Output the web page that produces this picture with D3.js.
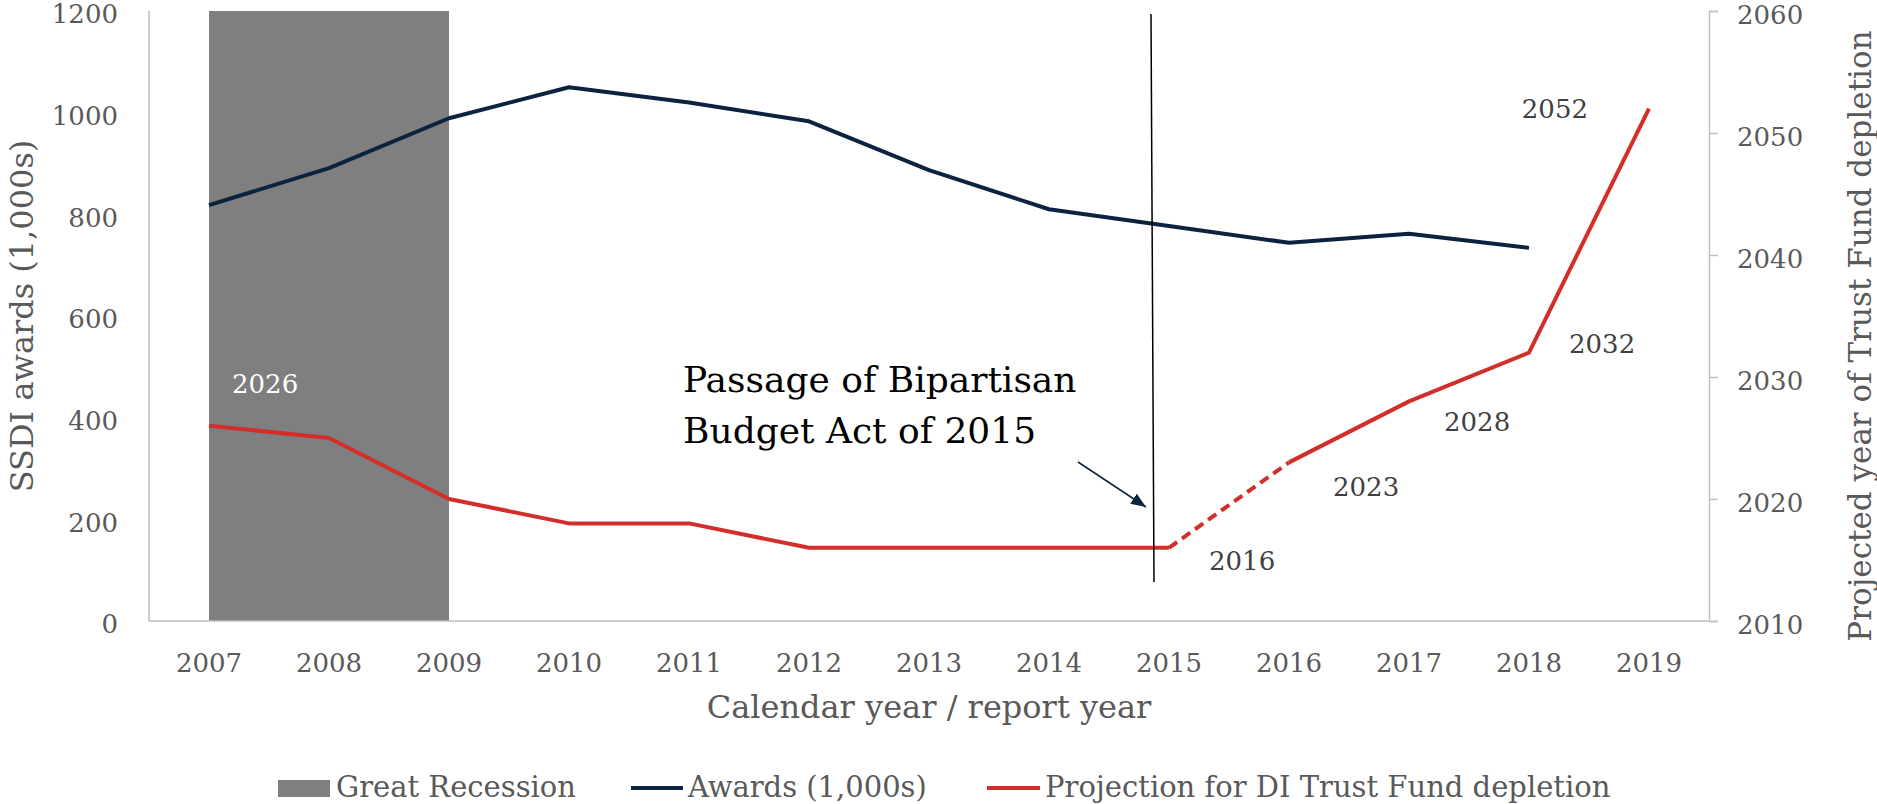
<!DOCTYPE html>
<html>
<head>
<meta charset="utf-8">
<script src="https://cdn.jsdelivr.net/npm/d3@7"></script>
<style>
  body { margin: 0; background: #fff; }
  text { font-family: "DejaVu Serif", Georgia, serif; }
</style>
</head>
<body>
<svg id="chart" width="1877" height="804"></svg>
<script>
// data
const years = [2007, 2008, 2009, 2010, 2011, 2012, 2013, 2014, 2015, 2016, 2017, 2018, 2019]
const awards = [818, 891, 989, 1050, 1020, 983, 887, 810, 777, 744, 762, 734, null]
const projection = [2026, 2025, 2020, 2018, 2018, 2016, 2016, 2016, 2016, 2023, 2028, 2032, 2052]
const dashedSegmentEnds = [2016] // segment 2015 -> 2016 is dashed
const recession = [2007, 2009]
const labelledYears = [2007, 2015, 2016, 2017, 2018, 2019]
const leftTicks = [0, 200, 400, 600, 800, 1000, 1200]
const rightTicks = [2010, 2020, 2030, 2040, 2050, 2060]
const billYear = 2015

// look
const navy = '#0c2340'
const red = '#d22f2b'
const grey = '#7f7f7f'
const axisGrey = '#bfbfbf'
const textGrey = '#595959'
const labelGrey = '#404040'

const svg = d3.select('#chart')

const x = d3.scaleBand().domain(years).range([149, 1709]).padding(0)
const cx = d => x(d) + x.bandwidth() / 2
const yL = d3.scaleLinear().domain([0, 1200]).range([621, 11])
const yR = d3.scaleLinear().domain([2010, 2060]).range([621, 11])

// recession band
svg.append('rect')
  .attr('x', cx(recession[0]))
  .attr('y', yL(1200))
  .attr('width', cx(recession[1]) - cx(recession[0]))
  .attr('height', yL(0) - yL(1200))
  .attr('fill', grey)

// axes lines
svg.append('line')
  .attr('x1', 149).attr('x2', 149).attr('y1', yL(1200)).attr('y2', yL(0))
  .attr('stroke', axisGrey).attr('stroke-width', 1.5)
svg.append('line')
  .attr('x1', 149).attr('x2', 1709).attr('y1', yL(0)).attr('y2', yL(0))
  .attr('stroke', axisGrey).attr('stroke-width', 1.5)

// left ticks labels
svg.append('g').selectAll('text')
  .data(leftTicks).join('text')
  .attr('x', 118).attr('y', d => yL(d))
  .attr('dy', '0.48em')
  .attr('text-anchor', 'end')
  .attr('font-size', '26px')
  .attr('fill', textGrey)
  .text(d => d)

// right axis
const rightAxis = d3.axisRight(yR).tickValues(rightTicks).tickSize(9).tickPadding(19).tickFormat(d3.format('d'))
const gR = svg.append('g').attr('transform', 'translate(1709,0)').call(rightAxis)
gR.select('.domain').attr('stroke', axisGrey).attr('stroke-width', 1.5)
gR.selectAll('.tick line').attr('stroke', axisGrey).attr('stroke-width', 1.5)
gR.selectAll('.tick text').attr('font-size', '26px').attr('fill', textGrey).attr('dy', '0.48em')
  .style('font-family', '"DejaVu Serif", Georgia, serif')

// bottom tick labels
svg.append('g').selectAll('text')
  .data(years).join('text')
  .attr('x', d => cx(d)).attr('y', 672)
  .attr('text-anchor', 'middle')
  .attr('font-size', '26px')
  .attr('fill', textGrey)
  .text(d => d)

// axis titles
svg.append('text')
  .attr('transform', 'translate(33,316) rotate(-90)')
  .attr('text-anchor', 'middle')
  .attr('font-size', '32px')
  .attr('fill', textGrey)
  .text('SSDI awards (1,000s)')

svg.append('text')
  .attr('transform', 'translate(1871,336) rotate(-90)')
  .attr('text-anchor', 'middle')
  .attr('font-size', '31px')
  .attr('fill', textGrey)
  .text('Projected year of Trust Fund depletion')

svg.append('text')
  .attr('x', 929).attr('y', 718)
  .attr('text-anchor', 'middle')
  .attr('font-size', '32px')
  .attr('fill', textGrey)
  .text('Calendar year / report year')

// awards line
const awardsPts = years.map((yr, i) => ({ yr, v: awards[i] })).filter(d => d.v != null)
svg.append('path')
  .datum(awardsPts)
  .attr('d', d3.line().x(d => cx(d.yr)).y(d => yL(d.v)))
  .attr('fill', 'none').attr('stroke', navy).attr('stroke-width', 4)
  .attr('stroke-linejoin', 'round')

// projection line, segment by segment
const projPts = years.map((yr, i) => ({ yr, v: projection[i] }))
const segs = []
let cur = [projPts[0]]
let curDashed = dashedSegmentEnds.includes(projPts[1].yr)
for (let i = 1; i < projPts.length; i++) {
  const dashed = dashedSegmentEnds.includes(projPts[i].yr)
  if (dashed !== curDashed) {
    segs.push({ pts: cur, dashed: curDashed })
    cur = [projPts[i - 1]]
    curDashed = dashed
  }
  cur.push(projPts[i])
}
segs.push({ pts: cur, dashed: curDashed })

const projLine = d3.line().x(d => cx(d.yr)).y(d => yR(d.v))
svg.append('g').selectAll('path')
  .data(segs).join('path')
  .attr('d', d => projLine(d.pts))
  .attr('fill', 'none').attr('stroke', red).attr('stroke-width', 4)
  .attr('stroke-linejoin', 'round')
  .attr('stroke-dasharray', d => d.dashed ? '10,6' : null)

// data labels on projection
const labelOffsets = {
  2007: { dx: 23, dy: -33, anchor: 'start', fill: '#fff' },
  2015: { dx: 40, dy: 22, anchor: 'start', fill: labelGrey },
  2016: { dx: 44, dy: 34, anchor: 'start', fill: labelGrey },
  2017: { dx: 35, dy: 30, anchor: 'start', fill: labelGrey },
  2018: { dx: 40, dy: 0, anchor: 'start', fill: labelGrey },
  2019: { dx: -61, dy: 9, anchor: 'end', fill: labelGrey }
}
svg.append('g').selectAll('text')
  .data(projPts.filter(d => labelledYears.includes(d.yr))).join('text')
  .attr('x', d => cx(d.yr) + labelOffsets[d.yr].dx)
  .attr('y', d => yR(d.v) + labelOffsets[d.yr].dy)
  .attr('text-anchor', d => labelOffsets[d.yr].anchor)
  .attr('font-size', '26px')
  .attr('fill', d => labelOffsets[d.yr].fill)
  .text(d => d.v)

// bill passage marker
const billX = cx(billYear) - 15
svg.append('line')
  .attr('x1', billX - 3).attr('y1', 14)
  .attr('x2', billX).attr('y2', 582)
  .attr('stroke', '#000').attr('stroke-width', 1.5)

svg.append('defs').append('marker')
  .attr('id', 'arrowhead')
  .attr('viewBox', '0 0 10 10')
  .attr('refX', 10).attr('refY', 5)
  .attr('markerWidth', 10).attr('markerHeight', 10)
  .attr('orient', 'auto')
  .append('path').attr('d', 'M0,1 L10,5 L0,9 Z').attr('fill', navy)

svg.append('line')
  .attr('x1', 1078).attr('y1', 462)
  .attr('x2', billX - 8).attr('y2', 507)
  .attr('stroke', navy).attr('stroke-width', 1.5)
  .attr('marker-end', 'url(#arrowhead)')

const note = svg.append('text')
  .attr('x', 683).attr('y', 392)
  .attr('font-size', '36px')
  .attr('fill', '#000')
note.append('tspan').attr('x', 683).text('Passage of Bipartisan')
note.append('tspan').attr('x', 683).attr('dy', 51).text('Budget Act of 2015')

// legend
const legend = svg.append('g')
legend.append('rect').attr('x', 278).attr('y', 780).attr('width', 52).attr('height', 17).attr('fill', grey)
legend.append('text').attr('x', 336).attr('y', 797).attr('font-size', '29px').attr('fill', textGrey).text('Great Recession')
legend.append('line').attr('x1', 631).attr('x2', 683).attr('y1', 788).attr('y2', 788).attr('stroke', navy).attr('stroke-width', 4)
legend.append('text').attr('x', 688).attr('y', 797).attr('font-size', '29px').attr('fill', textGrey).text('Awards (1,000s)')
legend.append('line').attr('x1', 987).attr('x2', 1040).attr('y1', 788).attr('y2', 788).attr('stroke', red).attr('stroke-width', 4)
legend.append('text').attr('x', 1045).attr('y', 797).attr('font-size', '29px').attr('fill', textGrey).text('Projection for DI Trust Fund depletion')
</script>
</body>
</html>
